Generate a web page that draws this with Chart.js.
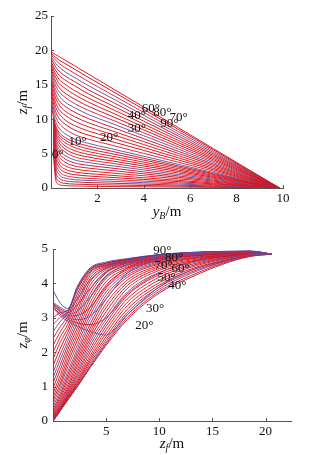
<!DOCTYPE html>
<html lang="en">
<head>
<meta charset="UTF-8">
<title>y_B - z_f and z_f - z_phi curves</title>
<style>
  body { margin: 0; background: #fff; }
  .box { position: absolute; left: 0; width: 326px; }
  #top { top: 0; height: 230px; }
  #bot { top: 230px; height: 225px; }
</style>
</head>
<body>
<div class="box" id="top"><canvas id="topChart" width="326" height="230"></canvas></div>
<div class="box" id="bot"><canvas id="botChart" width="326" height="225"></canvas></div>
<script src="https://cdn.jsdelivr.net/npm/chart.js@4/dist/chart.umd.min.js"></script>
<script>
// ---- top panel: y_B (x) against z_f (y), one row per curve ----
const topYB = [0, 0.1, 0.2, 0.35, 0.6, 1.0, 1.6, 2.5, 4, 5.5, 7, 8.5, 9.85];
const topZf = [
  [19.8, 19.6, 19.4, 19.1, 18.6, 17.8, 16.58, 14.77, 11.76, 8.74, 5.73, 2.71, 0],
  [19.6, 19.3, 19.0, 18.6, 18.1, 17.3, 16.1, 14.35, 11.42, 8.49, 5.56, 2.64, 0],
  [19.4, 19.0, 18.6, 18.1, 17.5, 16.7, 15.5, 13.81, 10.99, 8.17, 5.35, 2.54, 0],
  [19.1, 18.6, 18.1, 17.6, 16.9, 16.1, 14.9, 13.28, 10.56, 7.85, 5.14, 2.44, 0],
  [18.8, 18.2, 17.6, 17.0, 16.3, 15.5, 14.3, 12.74, 10.14, 7.54, 4.93, 2.35, 0],
  [18.5, 17.7, 17.1, 16.4, 15.7, 14.9, 13.7, 12.21, 9.71, 7.22, 4.73, 2.25, 0],
  [18.2, 17.3, 16.6, 15.8, 15.1, 14.2, 13.1, 11.67, 9.29, 6.9, 4.52, 2.15, 0],
  [17.9, 16.9, 16.1, 15.2, 14.5, 13.6, 12.5, 11.14, 8.86, 6.59, 4.31, 2.05, 0],
  [17.5, 16.4, 15.5, 14.6, 13.8, 12.95, 11.9, 10.6, 8.44, 6.27, 4.11, 1.95, 0],
  [17.1, 15.9, 14.9, 14.0, 13.2, 12.3, 11.3, 10.07, 8.01, 5.96, 3.9, 1.85, 0],
  [16.7, 15.4, 14.3, 13.4, 12.5, 11.7, 10.7, 9.53, 7.59, 5.64, 3.69, 1.75, 0],
  [16.2, 14.8, 13.7, 12.7, 11.9, 11.05, 10.1, 9.0, 7.16, 5.32, 3.48, 1.66, 0],
  [15.7, 14.2, 13.1, 12.1, 11.2, 10.4, 9.5, 8.46, 6.74, 5.01, 3.28, 1.56, 0],
  [15.2, 13.6, 12.4, 11.4, 10.6, 9.75, 8.9, 7.93, 6.31, 4.69, 3.07, 1.46, 0],
  [14.7, 13.0, 11.8, 10.8, 9.9, 9.1, 8.3, 7.4, 5.88, 4.37, 2.86, 1.36, 0],
  [14.2, 12.4, 11.1, 10.1, 9.3, 8.45, 7.7, 6.86, 5.46, 4.06, 2.66, 1.26, 0],
  [13.6, 11.7, 10.4, 9.4, 8.6, 7.8, 7.1, 6.33, 5.03, 3.74, 2.45, 1.16, 0],
  [13.0, 11.0, 9.7, 8.7, 7.9, 7.15, 6.5, 5.79, 4.61, 3.43, 2.24, 1.07, 0],
  [12.5, 10.4, 9.1, 8.1, 7.35, 6.7, 6.1, 5.43, 4.32, 3.21, 2.1, 1.0, 0],
  [null, 10.3, 8.8, 7.75, 7.0, 6.3, 5.7, 5.07, 4.05, 3.02, 1.97, 0.93, 0],
  [null, 10.2, 8.5, 7.4, 6.6, 5.9, 5.3, 4.72, 3.76, 2.81, 1.83, 0.87, 0],
  [null, 10.05, 8.15, 7.0, 6.15, 5.45, 4.9, 4.36, 3.48, 2.6, 1.69, 0.8, 0],
  [null, 9.9, 7.8, 6.55, 5.7, 5.0, 4.5, 4.0, 3.2, 2.39, 1.55, 0.74, 0],
  [null, 9.7, 7.4, 6.1, 5.25, 4.55, 4.1, 3.65, 2.91, 2.17, 1.41, 0.67, 0],
  [null, 9.45, 7.0, 5.6, 4.75, 4.1, 3.7, 3.29, 2.63, 1.96, 1.28, 0.61, 0],
  [null, 9.2, 6.6, 5.1, 4.25, 3.66, 3.3, 2.94, 2.34, 1.75, 1.14, 0.54, 0],
  [null, 8.9, 6.1, 4.6, 3.75, 3.22, 2.9, 2.58, 2.06, 1.54, 1.0, 0.48, 0],
  [null, 8.6, 5.6, 4.05, 3.25, 2.78, 2.5, 2.22, 1.78, 1.33, 0.86, 0.41, 0],
  [null, 8.3, 5.1, 3.5, 2.75, 2.34, 2.1, 1.87, 1.49, 1.11, 0.72, 0.34, 0],
  [null, 7.9, 4.5, 3.0, 2.3, 1.95, 1.75, 1.56, 1.24, 0.93, 0.6, 0.29, 0],
  [null, 7.5, 3.9, 2.45, 1.85, 1.56, 1.4, 1.25, 1.0, 0.74, 0.48, 0.23, 0],
  [null, 7.0, 3.3, 1.95, 1.45, 1.22, 1.1, 0.98, 0.78, 0.58, 0.38, 0.18, 0],
  [null, 6.5, 2.6, 1.45, 1.05, 0.9, 0.8, 0.71, 0.57, 0.42, 0.28, 0.13, 0],
  [null, 5.8, 1.9, 0.95, 0.68, 0.57, 0.5, 0.45, 0.36, 0.27, 0.17, 0.08, 0],
  [null, 5.0, 1.2, 0.5, 0.35, 0.3, 0.25, 0.22, 0.18, 0.13, 0.09, 0.04, 0]
];
const topXTicks = [2, 4, 6, 8, 10];
const topYTicks = [0, 5, 10, 15, 20, 25];
const topAngles = ["0°", "10°", "20°", "30°", "40°", "60°", "80°", "70°", "90°"];
const topAngleX = [0.3, 1.15, 2.5, 3.7, 3.7, 4.3, 4.8, 5.5, 5.1];
const topAngleY = [4.9, 6.7, 7.4, 8.7, 10.5, 11.6, 10.9, 10.3, 9.4];

// ---- bottom panel: z_f (x) against z_phi (y) ----
const botZf = [0, 0.7, 1.4, 2.3, 3.5, 5, 7, 10, 13, 16, 18.5, 20.6];
const botZphi = [
  [3.8, 3.42, 3.27, 3.92, 4.45, 4.62, 4.72, 4.84, 4.9, 4.93, 4.94, 4.85],
  [3.45, 3.3, 3.2, 3.55, 4.1, 4.45, 4.64, 4.8, 4.88, 4.92, 4.93, 4.85],
  [3.42, 3.26, 3.15, 3.38, 3.85, 4.33, 4.6, 4.78, 4.87, 4.91, 4.93, 4.85],
  [3.4, 3.22, 3.1, 3.2, 3.6, 4.2, 4.55, 4.76, 4.86, 4.91, 4.93, 4.85],
  [3.38, 3.18, 3.05, 3.07, 3.3, 3.9, 4.45, 4.72, 4.85, 4.9, 4.92, 4.85],
  [3.36, 3.15, 3.0, 2.95, 3.05, 3.55, 4.3, 4.68, 4.83, 4.9, 4.92, 4.85],
  [3.32, 3.1, 2.95, 2.85, 2.8, 3.0, 3.7, 4.3, 4.62, 4.8, 4.88, 4.85],
  [3.3, 3.05, 2.9, 2.75, 2.6, 2.5, 3.1, 3.9, 4.38, 4.66, 4.83, 4.85],
  [3.0, 3.15, 3.22, 3.88, 4.42, 4.59, 4.7, 4.83, 4.89, 4.92, 4.93, 4.85],
  [2.8, 3.02, 3.18, 3.84, 4.4, 4.58, 4.7, 4.83, 4.89, 4.92, 4.93, 4.85],
  [2.6, 2.9, 3.15, 3.8, 4.38, 4.56, 4.69, 4.83, 4.9, 4.93, 4.94, 4.85],
  [2.4, 2.75, 3.05, 3.7, 4.34, 4.54, 4.68, 4.82, 4.89, 4.92, 4.93, 4.85],
  [2.2, 2.6, 2.95, 3.6, 4.3, 4.52, 4.66, 4.81, 4.89, 4.92, 4.93, 4.85],
  [2.0, 2.45, 2.82, 3.48, 4.23, 4.5, 4.65, 4.8, 4.88, 4.92, 4.93, 4.85],
  [1.8, 2.3, 2.7, 3.35, 4.15, 4.47, 4.63, 4.79, 4.88, 4.91, 4.93, 4.85],
  [1.6, 2.12, 2.58, 3.22, 4.05, 4.44, 4.62, 4.78, 4.87, 4.91, 4.92, 4.85],
  [1.4, 1.95, 2.45, 3.1, 3.95, 4.4, 4.6, 4.77, 4.86, 4.9, 4.92, 4.85],
  [1.25, 1.8, 2.32, 2.98, 3.82, 4.35, 4.58, 4.76, 4.85, 4.9, 4.92, 4.85],
  [1.1, 1.65, 2.2, 2.85, 3.7, 4.3, 4.55, 4.74, 4.84, 4.89, 4.91, 4.85],
  [0.95, 1.5, 2.08, 2.72, 3.58, 4.22, 4.52, 4.73, 4.83, 4.89, 4.91, 4.85],
  [0.8, 1.35, 1.95, 2.6, 3.45, 4.15, 4.48, 4.71, 4.82, 4.88, 4.9, 4.85],
  [0.7, 1.22, 1.82, 2.48, 3.32, 4.05, 4.44, 4.69, 4.81, 4.87, 4.9, 4.85],
  [0.6, 1.1, 1.7, 2.35, 3.2, 3.95, 4.4, 4.67, 4.8, 4.86, 4.89, 4.85],
  [0.5, 1.0, 1.58, 2.22, 3.08, 3.85, 4.35, 4.65, 4.79, 4.85, 4.89, 4.85],
  [0.4, 0.9, 1.45, 2.1, 2.95, 3.75, 4.3, 4.62, 4.77, 4.84, 4.88, 4.85],
  [0.32, 0.8, 1.35, 2.0, 2.82, 3.65, 4.24, 4.59, 4.75, 4.83, 4.88, 4.85],
  [0.25, 0.72, 1.25, 1.9, 2.7, 3.55, 4.18, 4.56, 4.73, 4.82, 4.87, 4.85],
  [0.2, 0.65, 1.15, 1.8, 2.6, 3.42, 4.1, 4.52, 4.71, 4.81, 4.86, 4.85],
  [0.15, 0.58, 1.05, 1.7, 2.5, 3.3, 4.02, 4.48, 4.68, 4.8, 4.86, 4.85],
  [0.11, 0.52, 0.97, 1.6, 2.4, 3.18, 3.94, 4.43, 4.65, 4.78, 4.85, 4.85],
  [0.08, 0.47, 0.9, 1.5, 2.3, 3.05, 3.85, 4.38, 4.62, 4.77, 4.85, 4.85],
  [0.06, 0.43, 0.85, 1.42, 2.2, 2.95, 3.75, 4.32, 4.59, 4.75, 4.84, 4.85],
  [0.04, 0.4, 0.8, 1.35, 2.1, 2.85, 3.65, 4.25, 4.55, 4.74, 4.84, 4.85],
  [0.03, 0.37, 0.76, 1.27, 2.0, 2.75, 3.55, 4.18, 4.51, 4.72, 4.83, 4.85],
  [0.02, 0.35, 0.72, 1.2, 1.9, 2.65, 3.45, 4.1, 4.47, 4.7, 4.83, 4.85],
  [0.015, 0.34, 0.69, 1.15, 1.82, 2.55, 3.35, 4.02, 4.42, 4.67, 4.82, 4.85],
  [0.01, 0.33, 0.66, 1.1, 1.75, 2.45, 3.25, 3.95, 4.38, 4.65, 4.82, 4.85],
  [0.005, 0.32, 0.64, 1.06, 1.68, 2.37, 3.16, 3.89, 4.33, 4.63, 4.81, 4.85],
  [0, 0.32, 0.63, 1.03, 1.62, 2.3, 3.08, 3.83, 4.29, 4.62, 4.81, 4.85],
  [0, 0.31, 0.62, 1.01, 1.58, 2.25, 3.01, 3.77, 4.23, 4.59, 4.79, 4.85],
  [0, 0.31, 0.62, 1.0, 1.55, 2.2, 2.95, 3.72, 4.18, 4.56, 4.78, 4.85]
];
const botXTicks = [5, 10, 15, 20];
const botYTicks = [0, 1, 2, 3, 4, 5];
const botAngles = ["90°", "80°", "70°", "60°", "50°", "40°", "30°", "20°"];
const botAngleX = [10.3, 11.4, 10.4, 12.0, 10.7, 11.7, 9.6, 8.6];
const botAngleY = [4.94, 4.74, 4.53, 4.42, 4.16, 3.95, 3.26, 2.76];

const serif = '"Liberation Serif", "Times New Roman", serif';
const palette = ['#e0101a', '#c01024', '#e82028', '#5e54a6', '#d8121e', '#b81c34', '#e41620'];

function makeSets(xs, rows, firstBlue) {
  return rows.map(function (row, k) {
    let pts = [];
    row.forEach(function (v, i) { if (v !== null) pts.push({ x: xs[i], y: v }); });
    let c = palette[k % palette.length];
    if (k < firstBlue) c = k == 0 ? '#4c4ca6' : (k % 2 ? '#7050a4' : '#cc2038');
    return {
      data: pts, borderColor: c, borderWidth: 0.95, pointRadius: 0,
      fill: false, cubicInterpolationMode: 'monotone'
    };
  });
}

// inward ticks, angle labels and subscript axis titles
function extras(ticksX, ticksY, names, ax, ay, main, sub1, sub2, yPad) {
  return {
    id: 'extras',
    afterDraw(chart) {
      const ctx = chart.ctx, a = chart.chartArea;
      const sx = chart.scales.x, sy = chart.scales.y;
      ctx.save();
      ctx.strokeStyle = '#555';
      ctx.lineWidth = 1;
      ctx.beginPath();
      ticksX.forEach(function (v) {
        const p = Math.round(sx.getPixelForValue(v)) + 0.5;
        ctx.moveTo(p, a.bottom); ctx.lineTo(p, a.bottom - 3);
      });
      ticksY.forEach(function (v) {
        const p = Math.round(sy.getPixelForValue(v)) + 0.5;
        ctx.moveTo(a.left, p); ctx.lineTo(a.left + 3, p);
      });
      ctx.stroke();
      ctx.fillStyle = '#111';
      ctx.font = '13px ' + serif;
      ctx.textAlign = 'center';
      ctx.textBaseline = 'middle';
      names.forEach(function (t, i) {
        ctx.fillText(t, sx.getPixelForValue(ax[i]), sy.getPixelForValue(ay[i]));
      });
      axisTitle(ctx, (a.left + a.right) / 2, a.bottom + yPad, main, sub1, false);
      axisTitle(ctx, 22, (a.top + a.bottom) / 2, 'z', sub2, true);
      ctx.restore();
    }
  };
}

function axisTitle(ctx, cx, cy, main, sub, vertical) {
  const big = 'italic 15px ' + serif, small = 'italic 10px ' + serif, plain = '15px ' + serif;
  ctx.save();
  ctx.translate(cx, cy);
  if (vertical) ctx.rotate(-Math.PI / 2);
  ctx.textAlign = 'left';
  ctx.textBaseline = 'alphabetic';
  ctx.font = big; const w1 = ctx.measureText(main).width;
  ctx.font = small; const w2 = ctx.measureText(sub).width;
  ctx.font = plain; const w3 = ctx.measureText('/m').width;
  let x = -(w1 + w2 + w3) / 2;
  ctx.font = big; ctx.fillText(main, x, 5); x += w1;
  ctx.font = small; ctx.fillText(sub, x, 8); x += w2;
  ctx.font = plain; ctx.fillText('/m', x, 5);
  ctx.restore();
}

function makeChart(id, sets, xMax, yMax, xTicks, yTicks, yWidth, yTickPad, xHeight, pad, plugin) {
  return new Chart(document.getElementById(id), {
    type: 'line',
    data: { datasets: sets },
    options: {
      responsive: false, animation: false, devicePixelRatio: 1,
      layout: { padding: pad },
      plugins: { legend: { display: false }, tooltip: { enabled: false } },
      scales: {
        x: {
          type: 'linear', min: 0, max: xMax,
          afterBuildTicks(s) { s.ticks = xTicks.map(function (v) { return { value: v }; }); },
          afterFit(s) { s.height = xHeight; },
          grid: { display: false, drawTicks: false, tickLength: 0 },
          border: { display: true, color: '#555', width: 1 },
          ticks: { color: '#111', padding: 3, maxRotation: 0, font: { family: serif, size: 13 } }
        },
        y: {
          type: 'linear', min: 0, max: yMax,
          afterBuildTicks(s) { s.ticks = yTicks.map(function (v) { return { value: v }; }); },
          afterFit(s) { s.width = yWidth; },
          grid: { display: false, drawTicks: false, tickLength: 0 },
          border: { display: true, color: '#555', width: 1 },
          ticks: { color: '#111', padding: yTickPad, font: { family: serif, size: 13 } }
        }
      }
    },
    plugins: [plugin]
  });
}

makeChart('topChart', makeSets(topYB, topZf, 0), 10, 25, topXTicks, topYTicks,
  51, 3, 42, { top: 16, right: 43, left: 0, bottom: 0 },
  extras(topXTicks, topYTicks, topAngles, topAngleX, topAngleY, 'y', 'B', 'f', 23));

makeChart('botChart', makeSets(botZf, botZphi, 8), 22.4, 5, botXTicks, botYTicks,
  53, 5, 34, { top: 19, right: 35, left: 0, bottom: 0 },
  extras(botXTicks, botYTicks, botAngles, botAngleX, botAngleY, 'z', 'f', 'φ', 22));
</script>
</body>
</html>
